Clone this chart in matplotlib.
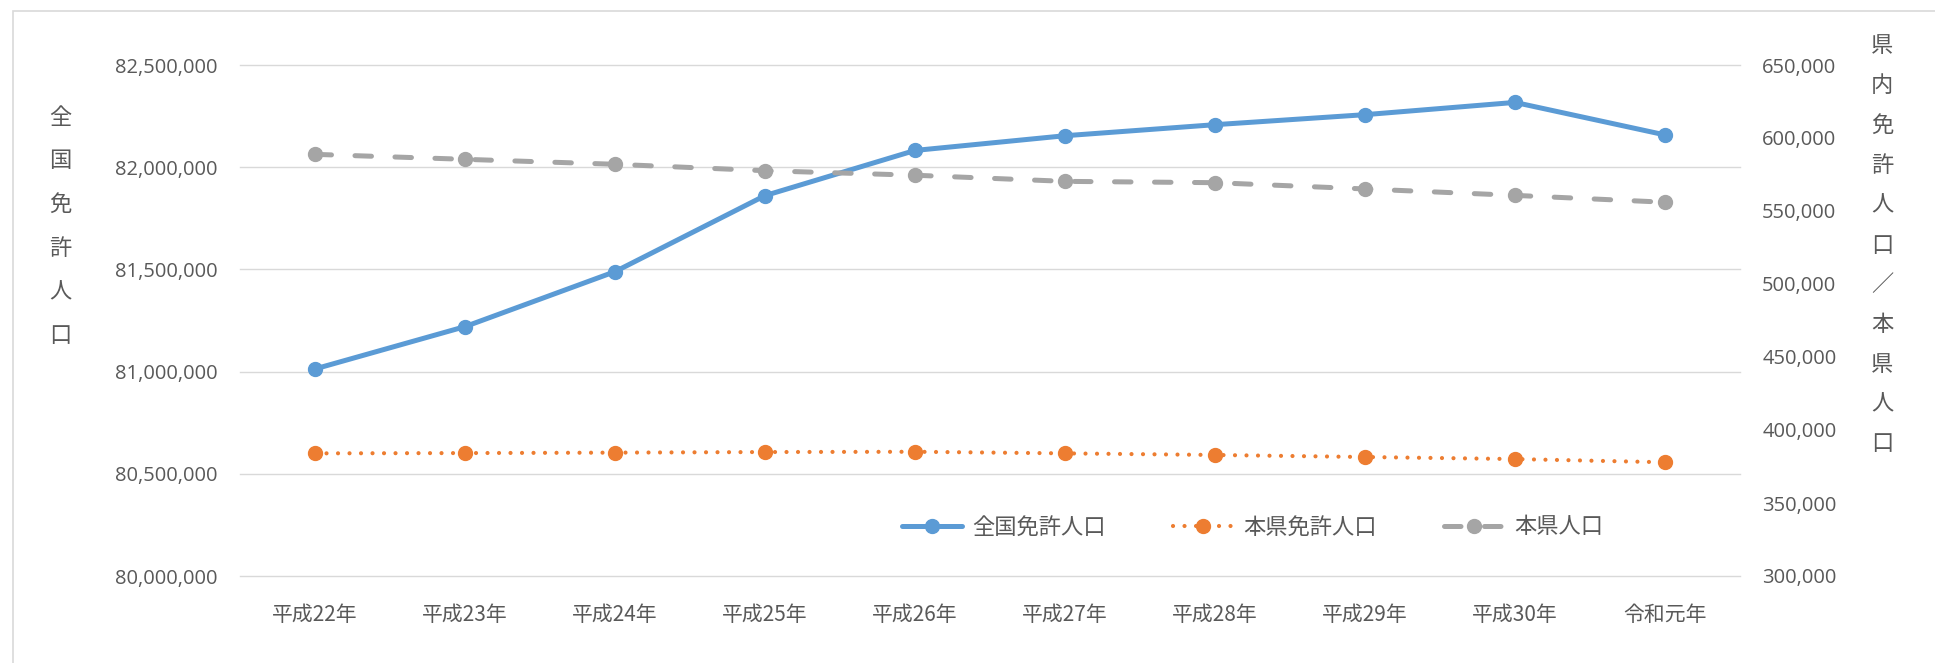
# plot.py
# 全国免許人口 / 本県免許人口 / 本県人口 の推移
import matplotlib
matplotlib.use("Agg")
import matplotlib.pyplot as plt
from matplotlib.ticker import FuncFormatter, MultipleLocator
from matplotlib.patches import Rectangle

plt.rcParams['font.family'] = ['Noto Sans CJK JP', 'DejaVu Sans']

years = ["平成22年", "平成23年", "平成24年", "平成25年", "平成26年",
         "平成27年", "平成28年", "平成29年", "平成30年", "令和元年"]
national_license = [81013000, 81220000, 81489000, 81861000, 82082000,
                    82154000, 82208000, 82257000, 82317000, 82158000]
pref_license = [384000, 384200, 384500, 384900, 385100,
                384000, 382900, 381500, 380100, 377900]
pref_population = [588800, 585400, 582000, 577600, 574500,
                   570300, 569400, 565100, 560700, 556000]

BLUE = "#5B9BD5"
ORANGE = "#ED7D31"
GRAY = "#A5A5A5"
TXT = "#595959"
GRID = "#D9D9D9"

fig = plt.figure(figsize=(19.35, 6.63), dpi=100)
ax = fig.add_axes([240/1935, 87/663, 1500/1935, 511/663])
ax2 = ax.twinx()

x = list(range(len(years)))

l1, = ax.plot(x, national_license, color=BLUE, lw=3.6, marker='o', ms=10,
              solid_capstyle='round', label="全国免許人口")
l2, = ax2.plot(x, pref_license, color=ORANGE, lw=3.0, marker='o', ms=10,
               dashes=(0.01, 2.75), dash_capstyle='round', label="本県免許人口")
l3, = ax2.plot(x, pref_population, color=GRAY, lw=3.6, marker='o', ms=10,
               dashes=(3.3, 4.7), dash_capstyle='round', label="本県人口")

ax.set_xlim(-0.5, len(years) - 0.5)
ax.set_ylim(80000000, 82500000)
ax2.set_ylim(300000, 650000)
ax.yaxis.set_major_locator(MultipleLocator(500000))
ax2.yaxis.set_major_locator(MultipleLocator(50000))
fmt = FuncFormatter(lambda v, p: f"{v:,.0f}")
ax.yaxis.set_major_formatter(fmt)
ax2.yaxis.set_major_formatter(fmt)

ax.set_xticks(x)
ax.set_xticklabels(years)
ax.grid(axis='y', color=GRID, lw=1.0)
ax.set_axisbelow(True)
for gl in ax.get_ygridlines():
    gl.set_clip_on(False)

for a in (ax, ax2):
    for s in a.spines.values():
        s.set_visible(False)
    a.tick_params(length=0, colors=TXT)
ax.tick_params(axis='y', pad=16, labelsize=14.5)
ax2.tick_params(axis='y', pad=16, labelsize=14.5)
ax.tick_params(axis='x', pad=20, labelsize=15)
for lab in ax.get_yticklabels() + ax2.get_yticklabels():
    lab.set_family(['Open Sans', 'Noto Sans CJK JP'])

# vertical (stacked) axis titles
left_title = "全国免許人口"
for i, ch in enumerate(left_title):
    fig.text(60/1935, 1 - (117 + i*43.8)/663, ch, ha='center', va='center',
             fontsize=16, color=TXT)
right_title = "県内免許人口／本県人口"
for i, ch in enumerate(right_title):
    fig.text(1882/1935, 1 - (46 + i*39.8)/663, ch, ha='center', va='center',
             fontsize=16, color=TXT)

leg = ax2.legend([l1, l2, l3], [l1.get_label(), l2.get_label(), l3.get_label()],
                 loc='center', bbox_to_anchor=(0.675, 0.096), ncol=3,
                 frameon=False, fontsize=16, handlelength=2.7,
                 handletextpad=0.45, columnspacing=3.05, numpoints=1)
for t in leg.get_texts():
    t.set_color(TXT)

# chart area border
fig.patches.append(Rectangle((13/1935, -0.1), 1.2, 1 - 11/663 + 0.1,
                             transform=fig.transFigure, fill=False,
                             edgecolor=GRID, lw=1.2))

fig.savefig("out.png", dpi=100)
